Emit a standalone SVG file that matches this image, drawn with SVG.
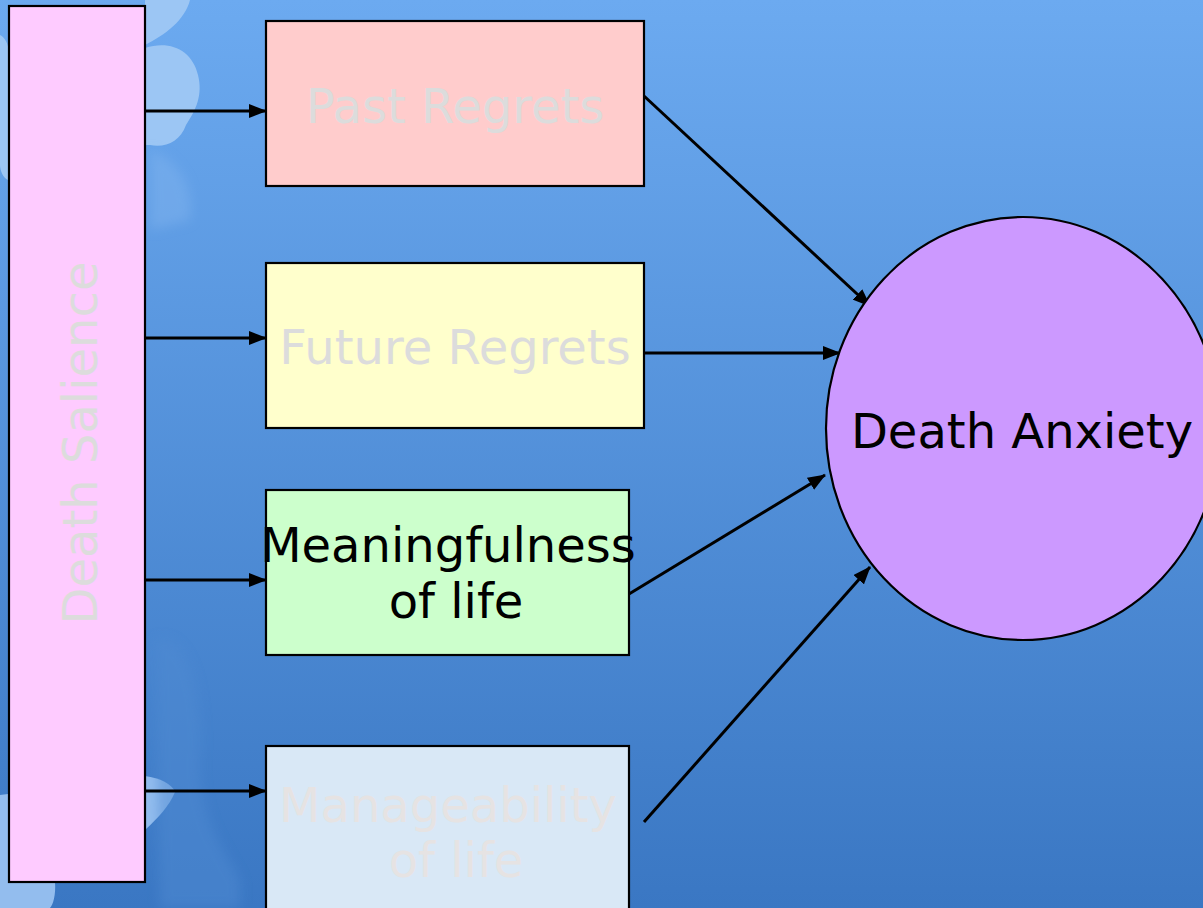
<svg xmlns="http://www.w3.org/2000/svg" width="1203" height="908" viewBox="0 0 1203 908">
  <defs>
    <linearGradient id="bg" x1="0" y1="0" x2="0" y2="1">
      <stop offset="0" stop-color="#6caaf0"/>
      <stop offset="1" stop-color="#3a77c3"/>
    </linearGradient>
    <filter id="soft" x="-20%" y="-20%" width="140%" height="140%">
      <feGaussianBlur stdDeviation="6"/>
    </filter>
    <marker id="arrow" viewBox="0 0 18 14" refX="17" refY="7" markerWidth="18" markerHeight="14" markerUnits="userSpaceOnUse" orient="auto">
      <path d="M0,0 L18,7 L0,14 z" fill="#000"/>
    </marker>
    <style>
      .box { stroke: #000; stroke-width: 2.2; }
      .lbl { font-family: "DejaVu Sans", Verdana, sans-serif; font-size: 48px; text-anchor: middle; }
      .pale { fill: #dcdcdc; }
      .dark { fill: #000; }
      .link { stroke: #000; stroke-width: 3; fill: none; marker-end: url(#arrow); }
    </style>
  </defs>

  <!-- backdrop -->
  <rect x="0" y="0" width="1203" height="908" fill="url(#bg)"/>
  <g id="backdrop-petals">
    <path d="M145,48 C170,40 192,50 198,75 C203,95 196,110 186,125 C180,142 165,148 150,145 L145,145 Z" fill="#9cc6f4"/>
    <path d="M60,0 L190,0 C185,20 165,35 145,45 L145,0 Z" fill="#9cc6f4"/>
    <path d="M0,35 C10,40 12,60 8,80 L8,180 C3,178 0,170 0,165 Z" fill="#9cc6f4"/>
    <path d="M145,776 C160,778 172,784 175,792 C170,805 158,818 145,830 Z" fill="#93bdee"/>
    <path d="M0,795 L8,794 L8,882 L55,882 C56,895 53,905 50,908 L0,908 Z" fill="#93bdee"/>
    <path d="M155,640 C190,630 205,700 200,760 C198,820 225,850 240,880 L240,908 L160,908 Z" fill="#4f8ad2" opacity="0.5" filter="url(#soft)"/>
    <path d="M150,150 C180,160 195,190 190,220 L150,230 Z" fill="#7fb2ee" opacity="0.5" filter="url(#soft)"/>
  </g>

  <!-- connectors -->
  <g id="connectors">
    <line class="link" x1="145" y1="111" x2="266" y2="111"/>
    <line class="link" x1="145" y1="338" x2="266" y2="338"/>
    <line class="link" x1="145" y1="580" x2="266" y2="580"/>
    <line class="link" x1="145" y1="791" x2="266" y2="791"/>
    <line class="link" x1="644" y1="96" x2="870" y2="306"/>
    <line class="link" x1="644" y1="353" x2="840" y2="353"/>
    <line class="link" x1="629" y1="594" x2="825" y2="475"/>
    <line class="link" x1="644" y1="822" x2="870" y2="567"/>
  </g>

  <g id="death-salience">
    <rect class="box" x="9" y="6" width="136" height="876" fill="#fecbff"/>
    <text class="lbl pale" transform="translate(97,443) rotate(-90)">Death Salience</text>
  </g>

  <g id="past-regrets">
    <rect class="box" x="266" y="21" width="378" height="165" fill="#ffcccc"/>
    <text class="lbl pale" x="455" y="123">Past Regrets</text>
  </g>

  <g id="future-regrets">
    <rect class="box" x="266" y="263" width="378" height="165" fill="#ffffcc"/>
    <text class="lbl pale" x="455" y="364">Future Regrets</text>
  </g>

  <g id="meaningfulness">
    <rect class="box" x="266" y="490" width="363" height="165" fill="#ccffcc"/>
    <text class="lbl dark" x="448" y="562">Meaningfulness</text>
    <text class="lbl dark" x="456" y="618">of life</text>
  </g>

  <g id="manageability">
    <rect class="box" x="266" y="746" width="363" height="175" fill="#d9e8f6"/>
    <text class="lbl" fill="#e6e3e3" x="448" y="822">Manageability</text>
    <text class="lbl" fill="#e6e3e3" x="456" y="877">of life</text>
  </g>

  <g id="death-anxiety">
    <ellipse class="box" cx="1023" cy="428.5" rx="197" ry="211.5" fill="#cc99ff"/>
    <text class="lbl dark" x="1022" y="448">Death Anxiety</text>
  </g>
</svg>
